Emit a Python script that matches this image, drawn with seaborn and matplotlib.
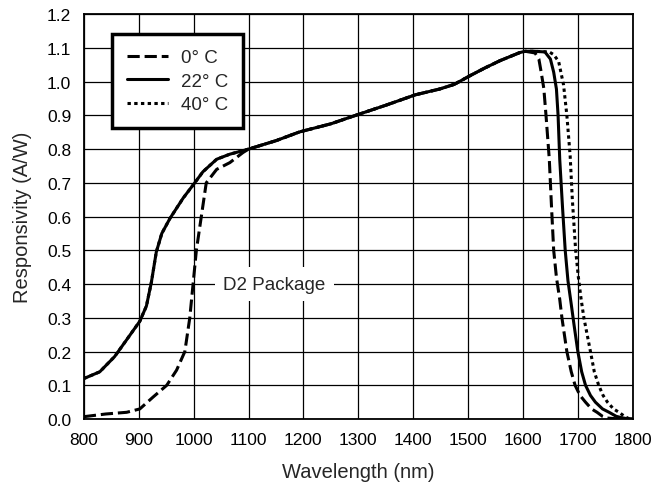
"""
Responsivity vs wavelength for the D2 package at three temperatures
"""

import pandas as pd
import matplotlib
matplotlib.use('Agg')
import matplotlib.pyplot as plt
import seaborn as sns

# values
# shared middle part of the curve (all three temperatures overlap here)
WL_MID = [1100, 1150, 1193, 1250, 1304, 1350, 1404, 1448, 1475, 1504, 1530, 1558, 1594, 1604]
R_MID = [0.80, 0.825, 0.851, 0.875, 0.905, 0.93, 0.961, 0.978, 0.992, 1.018, 1.04, 1.062, 1.086, 1.09]

# 22 C, short wavelength side
WL_22_LOW = [800, 829, 856, 878, 902, 914, 923, 932, 942, 957, 981, 1002, 1017, 1042, 1066]
R_22_LOW = [0.12, 0.14, 0.185, 0.235, 0.29, 0.335, 0.405, 0.495, 0.55, 0.595, 0.655, 0.70, 0.733, 0.77, 0.785]
# 22 C, cut-off side
WL_22_HIGH = [1620, 1640, 1650, 1656, 1661, 1664, 1667, 1672, 1677, 1682, 1688, 1693, 1700,
              1707, 1714, 1723, 1732, 1745, 1757, 1770, 1780, 1790, 1800]
R_22_HIGH = [1.09, 1.088, 1.067, 1.028, 0.978, 0.90, 0.77, 0.63, 0.50, 0.41, 0.34, 0.28, 0.20,
             0.14, 0.10, 0.07, 0.05, 0.03, 0.02, 0.008, 0.004, 0.001, 0.0]

# 0 C
WL_0_LOW = [800, 840, 878, 902, 926, 951, 969, 984, 993, 999, 1005, 1014, 1023, 1042, 1066, 1090]
R_0_LOW = [0.007, 0.015, 0.02, 0.03, 0.065, 0.10, 0.145, 0.20, 0.30, 0.40, 0.50, 0.60, 0.70, 0.74, 0.76, 0.79]
WL_0_HIGH = [1622, 1629, 1633, 1638, 1642, 1648, 1652, 1656, 1661, 1667, 1671, 1680, 1688,
             1695, 1704, 1714, 1725, 1735, 1745, 1753, 1770, 1800]
R_0_HIGH = [1.085, 1.067, 1.03, 0.98, 0.90, 0.77, 0.63, 0.50, 0.42, 0.355, 0.30, 0.20, 0.14,
            0.10, 0.07, 0.05, 0.03, 0.02, 0.008, 0.003, 0.001, 0.0]

# 40 C, cut-off side (short side hidden under the 22 C curve)
WL_40_HIGH = [1620, 1648, 1656, 1665, 1674, 1680, 1686, 1690, 1696, 1701, 1706, 1711, 1717,
              1723, 1730, 1738, 1746, 1754, 1765, 1775, 1785, 1792, 1800]
R_40_HIGH = [1.09, 1.088, 1.08, 1.06, 0.99, 0.90, 0.78, 0.65, 0.50, 0.42, 0.355, 0.30, 0.25,
             0.20, 0.14, 0.10, 0.07, 0.05, 0.03, 0.02, 0.008, 0.002, 0.0]

LABELS = ['0° C', '22° C', '40° C']
X_TICKS = list(range(800, 1801, 100))
Y_TICKS = [i / 10 for i in range(0, 13)]


def build_data():
    """Long-form table of the three curves"""
    series = {
        '0° C': (WL_0_LOW + WL_MID + WL_0_HIGH, R_0_LOW + R_MID + R_0_HIGH),
        '22° C': (WL_22_LOW + WL_MID + WL_22_HIGH, R_22_LOW + R_MID + R_22_HIGH),
        '40° C': (WL_22_LOW + WL_MID + WL_40_HIGH, R_22_LOW + R_MID + R_40_HIGH),
    }
    frames = []
    for name, (wl, r) in series.items():
        frames.append(pd.DataFrame({'Wavelength': wl, 'Responsivity': r, 'Temp': name}))
    return pd.concat(frames, ignore_index=True)


def main():
    df = build_data()

    sns.set_style("white")
    plt.rcParams['font.family'] = ['Liberation Sans', 'DejaVu Sans']

    fig = plt.figure(figsize=(6.55, 4.89), dpi=100)
    ax = fig.add_axes([0.128, 0.141, 0.838, 0.828])

    styles = {
        '0° C': (0, (4, 1.6)),
        '22° C': '-',
        '40° C': (0, (1.1, 1.1)),
    }
    for name in ['40° C', '0° C', '22° C']:
        sub = df[df['Temp'] == name]
        sns.lineplot(data=sub, x='Wavelength', y='Responsivity', ax=ax,
                     color='black', linewidth=2.2, linestyle=styles[name],
                     estimator=None, sort=False, label=name, zorder=4,
                     solid_joinstyle='round')

    ax.set_xlim(800, 1800)
    ax.set_ylim(0, 1.2)
    ax.set_xticks(X_TICKS)
    ax.set_yticks(Y_TICKS)
    ax.set_yticklabels([f'{v:.1f}' for v in Y_TICKS])
    ax.tick_params(axis='y', length=0, labelsize=12.5, pad=9, colors='black')
    ax.tick_params(axis='x', length=0, labelsize=12.5, pad=9, colors='black')
    ax.grid(True, color='black', linewidth=0.9)
    ax.set_axisbelow(True)
    for spine in ax.spines.values():
        spine.set_color('black')
        spine.set_linewidth(1.3)

    ax.set_xlabel('Wavelength (nm)', fontsize=14.5, labelpad=11)
    ax.set_ylabel('Responsivity (A/W)', fontsize=14.5, labelpad=11)

    ax.text(1147, 0.4, 'D2 Package', ha='center', va='center', fontsize=13.5, zorder=3,
            bbox=dict(boxstyle='square,pad=0.45', facecolor='white', edgecolor='none'))

    handles, labels = ax.get_legend_handles_labels()
    order = [labels.index(l) for l in LABELS]
    leg = ax.legend([handles[i] for i in order], [labels[i] for i in order],
                    loc='upper left', bbox_to_anchor=(0.051, 0.951), borderaxespad=0,
                    fontsize=13.5, frameon=True, fancybox=False, framealpha=1,
                    edgecolor='black', handlelength=2.2, handletextpad=0.7,
                    borderpad=0.8, labelspacing=0.35)
    leg.get_frame().set_linewidth(2.5)
    leg.set_zorder(5)

    fig.savefig('out.png', dpi=100)
    plt.close(fig)


if __name__ == '__main__':
    main()
